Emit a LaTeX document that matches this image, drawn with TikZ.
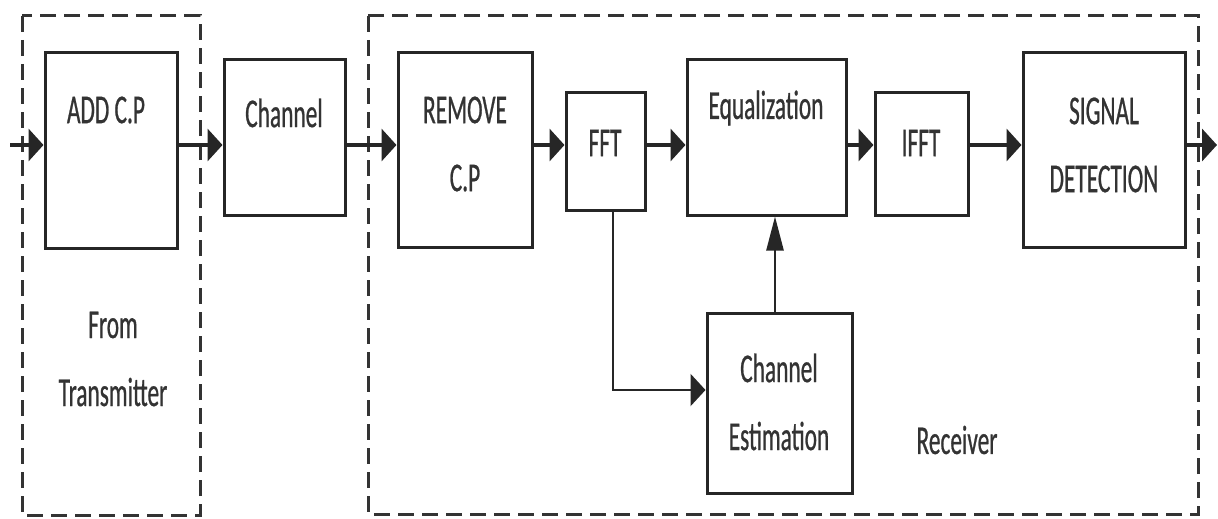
\documentclass[tikz,border=0pt]{standalone}
\usepackage{fontspec}
\setmainfont{Carlito}[FakeStretch=0.57, FakeBold=0.6]
\usepackage{tikz}
\usetikzlibrary{arrows.meta,calc}

\begin{document}
\begin{tikzpicture}[x=1pt, y=-1pt,
    blk/.style={draw=black!85, line width=3pt, minimum width=#1, inner sep=0pt},
    txt/.style={font=\fontsize{41}{68}\selectfont, text=black!80, align=center, inner sep=0pt},
    group/.style={draw=black!80, line width=3pt, dash pattern=on 16pt off 8pt},
    flow/.style={line width=4pt, draw=black!85, -{Triangle[length=15pt, width=32pt]}},
    upflow/.style={line width=2.5pt, draw=black!85, -{Triangle[length=34pt, width=17pt]}}]

  \useasboundingbox (0,0) rectangle (1218,519);

  % ========== Dashed groups ==========
  \draw[group] (22,16) rectangle (200,515);
  \draw[group] (368,16) rectangle (1198,514);
  \node[txt] (from) at (113,359) {From\\Transmitter};
  \node[txt] (recv) at (957,440) {Receiver};

  % ========== Blocks ==========
  \node[blk=132pt, minimum height=195pt] (addcp) at (111,150.5) {};
  \node[blk=121pt, minimum height=155pt] (chan) at (284.5,137.5) {};
  \node[blk=134pt, minimum height=194pt] (rmcp) at (465,150) {};
  \node[blk=79pt, minimum height=118pt] (fft) at (605.5,151) {};
  \node[blk=159pt, minimum height=155pt] (eq) at (766.5,137.5) {};
  \node[blk=93pt, minimum height=123pt] (ifft) at (921.5,153.5) {};
  \node[blk=162pt, minimum height=194pt] (sd) at (1104,150) {};
  \node[blk=145pt, minimum height=180pt] (chest) at (779.5,403) {};

  % block labels
  \node[txt] at (106,110) {ADD C.P};
  \node[txt] at (284,113) {Channel};
  \node[txt] at (465,144) {REMOVE\\C.P};
  \node[txt] at (605,143) {FFT};
  \node[txt] at (766,108) {Equalization};
  \node[txt] at (921,143) {IFFT};
  \node[txt] at (1104,145) {SIGNAL\\DETECTION};
  \node[txt] at (779,402) {Channel\\Estimation};

  % ========== Signal path ==========
  \coordinate (in) at (10,145);
  \coordinate (out) at (1217,145);
  \draw[flow] (in) -- (in -| addcp.west);
  \draw[flow] (in -| addcp.east) -- (in -| chan.west);
  \draw[flow] (in -| chan.east) -- (in -| rmcp.west);
  \draw[flow] (in -| rmcp.east) -- (in -| fft.west);
  \draw[flow] (in -| fft.east) -- (in -| eq.west);
  \draw[flow] (in -| eq.east) -- (in -| ifft.west);
  \draw[flow] (in -| ifft.east) -- (in -| sd.west);
  \draw[flow] (in -| sd.east) -- (out);

  % --- estimation loop ---
  \draw[flow, line width=2.5pt] ([xshift=7.5pt]fft.south) |- ($(chest.west)+(0,-13)$);
  \draw[upflow] ([xshift=-4.5pt]chest.north) -- ([xshift=-4.5pt]chest.north |- eq.south);

\end{tikzpicture}
\end{document}
